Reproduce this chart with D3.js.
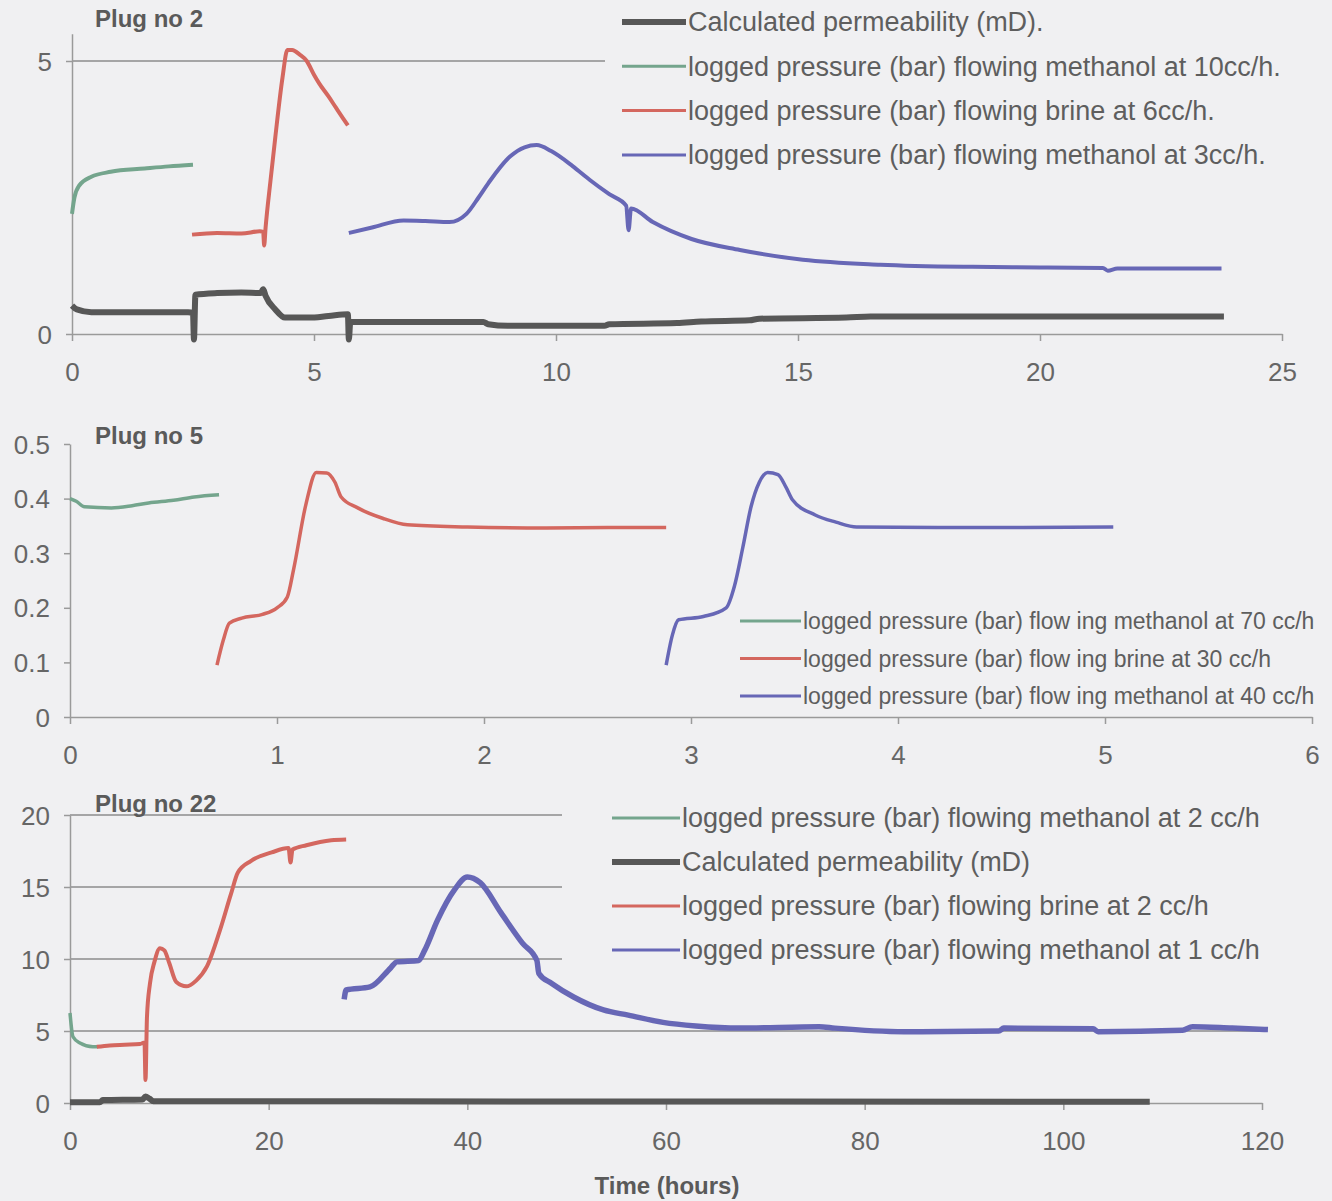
<!DOCTYPE html>
<html>
<head>
<meta charset="utf-8">
<script src="https://cdn.jsdelivr.net/npm/d3@7/dist/d3.min.js"></script>
<style>
  body { margin: 0; background: #f0f0f2; }
  svg { display: block; font-family: "Liberation Sans", Arial, sans-serif; }
</style>
</head>
<body>
<svg id="chart" width="1332" height="1201"></svg>
<script>
// ---- Plug no 2 : time (h) vs value ----
var plug2Perm = [[0,0.52],[0.1,0.45],[0.4,0.4],[2.4,0.4],[2.5,0.38],[2.52,-0.1],[2.55,0.72],[3.0,0.75],[3.5,0.76],
  [3.9,0.75],[3.95,0.82],[4.0,0.7],[4.2,0.45],[4.4,0.3],[4.9,0.3],[5.3,0.33],[5.7,0.36],[5.72,-0.1],[5.75,0.22],
  [8.5,0.22],[8.6,0.18],[9,0.15],[11,0.15],[11.1,0.18],[12.5,0.2],[13,0.23],[14,0.25],[14.2,0.28],[16,0.3],
  [16.5,0.32],[23.8,0.32]];
var plug2Meth10 = [[0,2.2],[0.05,2.5],[0.15,2.72],[0.4,2.88],[0.8,2.97],[1.5,3.03],[2,3.07],[2.5,3.1]];
var plug2Brine6 = [[2.48,1.82],[3,1.85],[3.5,1.84],[3.88,1.88],[3.95,1.87],[3.97,1.62],[4.0,1.95],[4.1,2.8],
  [4.2,3.6],[4.35,4.7],[4.45,5.2],[4.55,5.2],[4.7,5.12],[4.85,5.0],[5.0,4.75],[5.1,4.6],[5.3,4.35],[5.45,4.15],
  [5.6,3.95],[5.7,3.82]];
var plug2Meth3 = [[5.72,1.85],[6.2,1.95],[6.85,2.08],[7.3,2.07],[7.8,2.05],[8.15,2.2],[8.4,2.5],[8.6,2.76],
  [9.05,3.25],[9.35,3.42],[9.6,3.46],[9.9,3.35],[10.35,3.07],[10.7,2.82],[11.1,2.56],[11.45,2.35],[11.5,1.9],
  [11.55,2.3],[12.0,2.05],[12.8,1.74],[13.8,1.54],[15.1,1.36],[16.7,1.27],[18.6,1.23],[20,1.22],[21.3,1.21],
  [21.4,1.16],[21.6,1.2],[23.75,1.2]];
var plug2TicksX = [0,5,10,15,20,25];
var plug2TicksY = [0,5];
var plug2Grid = [5];
var plug2Labels = ["Calculated permeability (mD).",
  "logged pressure (bar) flowing methanol at 10cc/h.",
  "logged pressure (bar) flowing brine at 6cc/h.",
  "logged pressure (bar) flowing methanol at 3cc/h."];

// ---- Plug no 5 ----
var plug5Meth70 = [[0,0.40],[0.03,0.395],[0.07,0.385],[0.2,0.383],[0.3,0.387],[0.38,0.392],[0.5,0.397],
  [0.6,0.403],[0.72,0.407]];
var plug5Brine30 = [[0.71,0.095],[0.74,0.14],[0.77,0.172],[0.83,0.181],[0.93,0.188],[1.0,0.2],[1.05,0.22],
  [1.08,0.27],[1.14,0.39],[1.19,0.448],[1.24,0.447],[1.28,0.43],[1.31,0.403],[1.39,0.383],[1.51,0.364],
  [1.63,0.352],[1.92,0.348],[2.3,0.346],[2.6,0.347],[2.88,0.347]];
var plug5Meth40 = [[2.88,0.095],[2.91,0.15],[2.94,0.178],[3.06,0.184],[3.17,0.2],[3.21,0.24],[3.25,0.31],
  [3.29,0.385],[3.33,0.43],[3.37,0.448],[3.42,0.444],[3.46,0.42],[3.49,0.398],[3.6,0.37],[3.7,0.357],
  [3.8,0.348],[4.2,0.347],[4.6,0.347],[5.04,0.348]];
var plug5TicksX = [0,1,2,3,4,5,6];
var plug5TicksY = [0,0.1,0.2,0.3,0.4,0.5];
var plug5Labels = ["logged pressure (bar) flow ing methanol at 70 cc/h",
  "logged pressure (bar) flow ing brine at 30 cc/h",
  "logged pressure (bar) flow ing methanol at 40 cc/h"];

// ---- Plug no 22 ----
var plug22Meth2 = [[0,6.25],[0.3,4.6],[1.0,4.16],[2.3,3.9],[2.8,3.9]];
var plug22Perm = [[0,0.05],[3,0.05],[3.3,0.2],[7.3,0.25],[7.6,0.45],[8.0,0.3],[8.4,0.12],[30,0.12],[60,0.1],
  [108.7,0.08]];
var plug22Brine2 = [[2.7,3.9],[4,4.0],[5.5,4.05],[7.05,4.1],[7.5,4.2],[7.6,1.6],[7.75,6.0],[8.05,8.3],[8.5,9.8],
  [9.06,10.75],[9.5,10.6],[10.0,9.7],[10.7,8.4],[11.7,8.1],[12.7,8.5],[13.8,9.5],[15.1,12],[16.2,14.5],
  [16.9,16],[18.2,16.8],[20.3,17.4],[22,17.7],[22.2,16.7],[22.4,17.6],[23.8,17.9],[26.3,18.25],[27.8,18.3]];
var plug22Meth1 = [[27.6,7.2],[27.8,7.85],[30.2,8.06],[32.3,9.4],[32.9,9.8],[35.1,9.9],[35.7,10.6],[37,12.7],
  [38.7,14.8],[40,15.7],[41.3,15.3],[43.4,13.2],[45.55,11.1],[47,9.9],[47.2,9.0],[48.5,8.3],[50.7,7.36],
  [53.7,6.46],[56.2,6.1],[59.7,5.6],[63,5.35],[67.4,5.2],[75.4,5.3],[77,5.2],[84,4.95],[93.5,5.0],[94,5.2],
  [103,5.15],[103.5,4.95],[112,5.05],[113,5.3],[117,5.2],[120.6,5.1]];
var plug22TicksX = [0,20,40,60,80,100,120];
var plug22TicksY = [0,5,10,15,20];
var plug22Grid = [5,10,15,20];
var plug22Labels = ["logged pressure (bar) flowing methanol at 2 cc/h",
  "Calculated permeability (mD)",
  "logged pressure (bar) flowing brine at 2 cc/h",
  "logged pressure (bar) flowing methanol at 1 cc/h"];

var col = { perm: "#575757", green: "#74a58d", red: "#d4675f", blue: "#6767b6" };

var svg = d3.select("#chart");

function drawPanel(p) {
  var x = d3.scaleLinear().domain(p.xDomain).range(p.xRange);
  var y = d3.scaleLinear().domain(p.yDomain).range(p.yRange);
  var g = svg.append("g");

  // gridlines
  g.selectAll(".grid").data(p.grid || []).enter().append("line")
    .attr("x1", x.range()[0]).attr("x2", x.range()[1])
    .attr("y1", d => y(d)).attr("y2", d => y(d))
    .attr("stroke", "#8c8c8c").attr("stroke-width", 1.5);

  // legend background hides the gridlines behind it
  g.append("rect").attr("x", p.legend.bg[0]).attr("y", p.legend.bg[1])
    .attr("width", p.legend.bg[2]).attr("height", p.legend.bg[3])
    .attr("fill", "#f0f0f2");

  var fmt = d => d === 0 ? "0" : String(d);
  var xAxis = d3.axisBottom(x).tickValues(p.ticksX).tickSizeInner(7).tickSizeOuter(0).tickPadding(22).tickFormat(fmt);
  var yAxis = d3.axisLeft(y).tickValues(p.ticksY).tickSizeInner(6).tickSizeOuter(0).tickPadding(14).tickFormat(fmt);

  var gx = g.append("g").attr("transform", "translate(0," + y(0) + ")").call(xAxis);
  var gy = g.append("g").attr("transform", "translate(" + x(0) + ",0)").call(yAxis);
  [gx, gy].forEach(function (a) {
    a.select(".domain").attr("stroke", "#9a9a9a").attr("stroke-width", 1.5);
    a.selectAll(".tick line").attr("stroke", "#9a9a9a").attr("stroke-width", 1.5);
    a.selectAll(".tick text").attr("fill", "#666").style("font-size", "26px");
  });
  gy.selectAll(".tick text").attr("dy", "0.35em");

  // series
  var line = d3.line().x(d => x(d[0])).y(d => y(d[1])).curve(d3.curveMonotoneX);
  p.series.forEach(function (s) {
    g.append("path").datum(s.data)
      .attr("d", line)
      .attr("fill", "none")
      .attr("stroke", s.color)
      .attr("stroke-width", s.width)
      .attr("stroke-linejoin", "round")
      .attr("stroke-linecap", "butt");
  });

  // title
  g.append("text").attr("x", p.title.x).attr("y", p.title.y)
    .attr("fill", "#5a5a5a").style("font-size", "24px").style("font-weight", "bold")
    .text(p.title.text);

  // legend
  var lg = p.legend;
  lg.items.forEach(function (it, i) {
    var yy = lg.y0 + i * lg.step;
    g.append("line").attr("x1", lg.x).attr("x2", lg.x + lg.len)
      .attr("y1", yy).attr("y2", yy)
      .attr("stroke", it.color).attr("stroke-width", it.lw);
    g.append("text").attr("x", lg.x + lg.len + 2).attr("y", yy).attr("dy", "0.35em")
      .attr("fill", "#5e5e5e").style("font-size", lg.size + "px")
      .text(it.label);
  });
}

drawPanel({
  xDomain: [0, 25], xRange: [72, 1282],
  yDomain: [0, 5.5], yRange: [334, 33.7],
  ticksX: plug2TicksX, ticksY: plug2TicksY, grid: plug2Grid,
  title: { text: "Plug no 2", x: 95, y: 27 },
  series: [
    { data: plug2Perm, color: col.perm, width: 6 },
    { data: plug2Meth10, color: col.green, width: 4 },
    { data: plug2Brine6, color: col.red, width: 4 },
    { data: plug2Meth3, color: col.blue, width: 4 }
  ],
  legend: {
    bg: [605, 0, 727, 182], x: 622, len: 64, y0: 22, step: 44.3, size: 27,
    items: [
      { label: plug2Labels[0], color: col.perm, lw: 6 },
      { label: plug2Labels[1], color: col.green, lw: 3 },
      { label: plug2Labels[2], color: col.red, lw: 3 },
      { label: plug2Labels[3], color: col.blue, lw: 3 }
    ]
  }
});

drawPanel({
  xDomain: [0, 6], xRange: [70, 1312],
  yDomain: [0, 0.5], yRange: [717, 444],
  ticksX: plug5TicksX, ticksY: plug5TicksY, grid: [],
  title: { text: "Plug no 5", x: 95, y: 444 },
  series: [
    { data: plug5Meth70, color: col.green, width: 3.5 },
    { data: plug5Brine30, color: col.red, width: 3.5 },
    { data: plug5Meth40, color: col.blue, width: 3.5 }
  ],
  legend: {
    bg: [738, 603, 594, 107], x: 740, len: 61, y0: 621, step: 37.5, size: 23,
    items: [
      { label: plug5Labels[0], color: col.green, lw: 3 },
      { label: plug5Labels[1], color: col.red, lw: 3 },
      { label: plug5Labels[2], color: col.blue, lw: 3 }
    ]
  }
});

drawPanel({
  xDomain: [0, 120], xRange: [70, 1262],
  yDomain: [0, 20], yRange: [1103, 815],
  ticksX: plug22TicksX, ticksY: plug22TicksY, grid: plug22Grid,
  title: { text: "Plug no 22", x: 95, y: 812 },
  series: [
    { data: plug22Perm, color: col.perm, width: 6 },
    { data: plug22Meth2, color: col.green, width: 3.5 },
    { data: plug22Brine2, color: col.red, width: 4 },
    { data: plug22Meth1, color: col.blue, width: 5.5 }
  ],
  legend: {
    bg: [562, 795, 770, 177], x: 612, len: 68, y0: 818, step: 44, size: 27,
    items: [
      { label: plug22Labels[0], color: col.green, lw: 3 },
      { label: plug22Labels[1], color: col.perm, lw: 6 },
      { label: plug22Labels[2], color: col.red, lw: 3 },
      { label: plug22Labels[3], color: col.blue, lw: 3 }
    ]
  }
});

svg.append("text").attr("x", 667).attr("y", 1194).attr("text-anchor", "middle")
  .attr("fill", "#5a5a5a").style("font-size", "24px").style("font-weight", "bold")
  .text("Time (hours)");
</script>
</body>
</html>
